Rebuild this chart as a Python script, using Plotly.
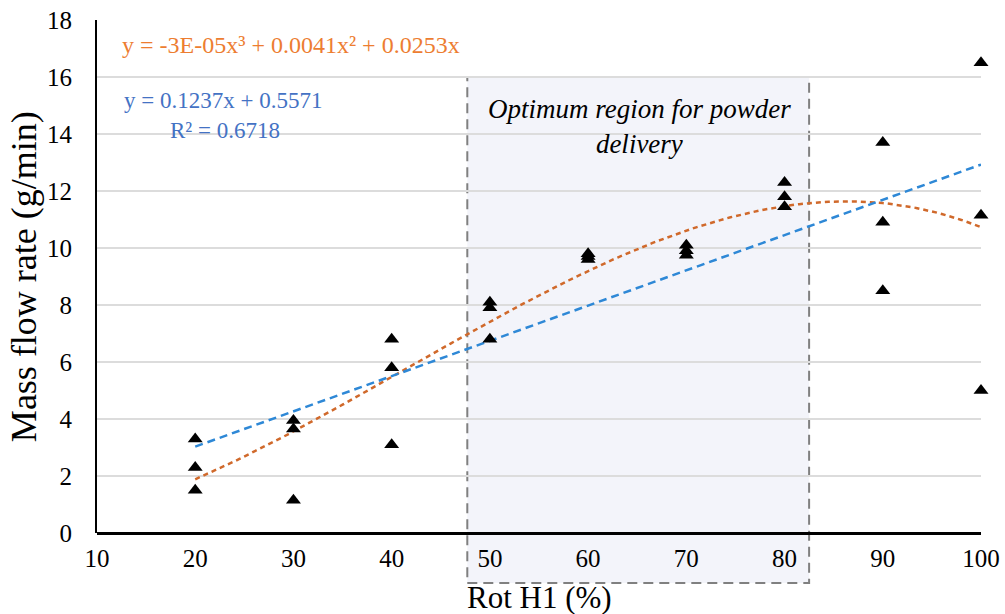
import numpy as np
import plotly.graph_objects as go

# Measured mass flow rate at each rotation setting
rot_h1 = [20, 20, 20, 30, 30, 30, 40, 40, 40, 50, 50, 50,
          60, 60, 60, 70, 70, 70, 80, 80, 80, 90, 90, 90, 100, 100, 100]
mass_flow = [3.3, 2.3, 1.5, 3.95, 3.65, 1.15, 6.8, 5.8, 3.1, 8.1, 7.9, 6.8,
             9.8, 9.7, 9.6, 10.1, 9.9, 9.75, 12.3, 11.8, 11.45, 13.7, 10.9, 8.5,
             16.5, 11.15, 5.0]

# Trendline coefficients (highest power first)
linear_coef = [0.1237, 0.5571]
cubic_coef = [-3.28e-05, 0.0041, 0.0253, 0.0]
trend_x = np.linspace(20, 100, 161)

x_ticks = [10, 20, 30, 40, 50, 60, 70, 80, 90, 100]
y_ticks = [0, 2, 4, 6, 8, 10, 12, 14, 16, 18]

# Optimum operating window (x range) and its vertical extent in paper units
opt_x = [47.7, 82.5]
opt_y_paper = [-0.0975, 16 / 18]

SERIF = "Liberation Serif"

fig = go.Figure()

fig.add_trace(go.Scatter(
    x=trend_x, y=np.polyval(cubic_coef, trend_x), mode="lines",
    line=dict(color="#d0692b", width=2.5, dash="5px,4px"),
    hoverinfo="skip", showlegend=False,
))
fig.add_trace(go.Scatter(
    x=trend_x, y=np.polyval(linear_coef, trend_x), mode="lines",
    line=dict(color="#2e88d6", width=2.5, dash="8px,5px"),
    hoverinfo="skip", showlegend=False,
))
fig.add_trace(go.Scatter(
    x=rot_h1, y=mass_flow, mode="markers",
    marker=dict(symbol="triangle-up", size=13, color="black"),
    cliponaxis=False, showlegend=False,
))

fig.add_shape(
    type="rect", xref="x", yref="paper",
    x0=opt_x[0], x1=opt_x[1], y0=opt_y_paper[0], y1=opt_y_paper[1],
    line=dict(color="#808080", width=2, dash="10px,6px"),
    fillcolor="#f3f4fa", layer="below",
)

annotations = [
    dict(x=12.34, y=17.12, text="y = -3E-05x³ + 0.0041x² + 0.0253x",
         xanchor="left", yanchor="middle",
         font=dict(family=SERIF, size=24, color="#ed7d31")),
    dict(x=12.55, y=15.19, text="y = 0.1237x + 0.5571<br>"
         + "&nbsp;" * 8 + "R² = 0.6718",
         xanchor="left", yanchor="top", align="left", yshift=14,
         font=dict(family=SERIF, size=23, color="#4472c4")),
    dict(x=65.28, y=14.84, text="<i>Optimum region for powder<br>delivery</i>",
         xanchor="center", yanchor="top", align="center", yshift=18,
         font=dict(family=SERIF, size=27, color="black")),
    dict(xref="paper", yref="paper", x=-0.083, y=0.5,
         text="Mass flow rate (g/min)", textangle=-90,
         xanchor="center", yanchor="middle",
         font=dict(family=SERIF, size=36, color="black")),
    dict(xref="paper", yref="paper", x=0.5, y=-0.125,
         text="Rot H1 (%)", xanchor="center", yanchor="middle",
         font=dict(family=SERIF, size=31, color="black")),
]
for a in annotations:
    a.setdefault("xref", "x")
    a.setdefault("yref", "y")
    a["showarrow"] = False
    fig.add_annotation(**a)

fig.update_layout(
    width=1005, height=614,
    margin=dict(l=97, r=24, t=20, b=81, autoexpand=False),
    paper_bgcolor="white", plot_bgcolor="white",
    font=dict(family=SERIF, color="black"),
    showlegend=False,
)
fig.update_xaxes(
    range=[10, 100], tickvals=x_ticks, ticks="", showgrid=False,
    zeroline=False, showline=False, automargin=False,
    tickfont=dict(family=SERIF, size=25, color="black"),
    ticklabelstandoff=8,
)
fig.update_yaxes(
    range=[0, 18], tickvals=y_ticks, ticks="", automargin=False,
    showgrid=True, gridcolor="#dcdcdc", gridwidth=2,
    zeroline=True, zerolinecolor="black", zerolinewidth=2.5,
    showline=True, linecolor="black", linewidth=2,
    tickfont=dict(family=SERIF, size=25, color="black"),
    ticklabelstandoff=18,
)

fig.write_html("out.html")
